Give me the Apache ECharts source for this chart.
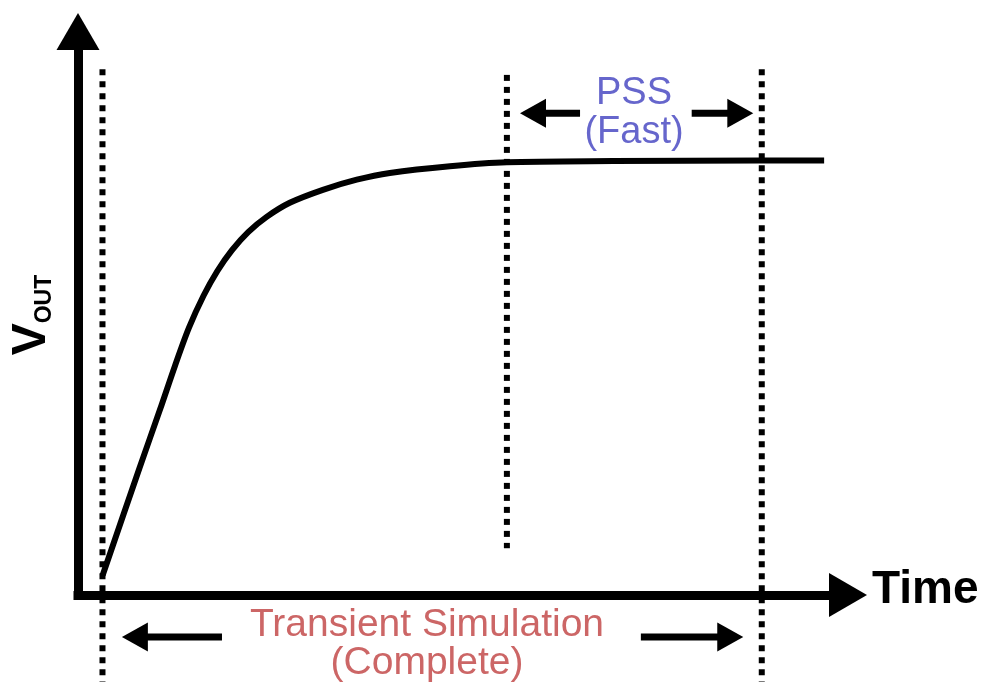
<!DOCTYPE html>
<html>
<head>
<meta charset="utf-8">
<script src="https://cdn.jsdelivr.net/npm/echarts@6/dist/echarts.min.js"></script>
<style>html,body{margin:0;padding:0;background:#fff;}#c{width:986px;height:682px;}</style>
</head>
<body>
<div id="c"></div>
<script>
// Curve: time (arbitrary units 0..100) and V_OUT (arbitrary units 0..100)
const timeVals = [3.2, 8.0, 10.65, 12.6, 14.4, 16.3, 18.1, 20.0, 22.1, 24.5, 27.5, 31.8, 36.2, 40.5, 48.3, 55.7, 69.5, 88.6, 96.9];
const voutVals = [3.5, 22.6, 32.9, 40.7, 47.4, 53.1, 57.5, 61.2, 64.4, 67.1, 69.6, 71.9, 73.7, 74.9, 76.1, 76.8, 77.0, 77.1, 77.1];

// Dotted markers: time position, top value, bottom value
const markerTimes = [3.18, 55.7, 88.8];
const markerTops = [93.3, 92.3, 93.3];
const markerBottoms = [-15.4, 8.3, -15.4];

// Span arrows: start time, level, tip time
const arrowStarts = [65.2, 79.7, 18.7, 73.1];
const arrowLevels = [85.5, 85.5, -7.45, -7.45];
const arrowTips = [57.4, 87.7, 5.7, 86.4];

const xLabel = 'Time';
const pssLabel = 'PSS\n(Fast)';
const tranLabel = 'Transient Simulation\n(Complete)';

const curveData = timeVals.map((t, i) => [t, voutVals[i]]);
const arrowData = arrowStarts.map((s, i) => [s, arrowLevels[i], arrowTips[i]]);

const markerSeries = markerTimes.map((t, i) => ({
  type: 'line',
  data: [[t, markerTops[i]], [t, markerBottoms[i]]],
  showSymbol: false,
  symbol: 'none',
  clip: false,
  silent: true,
  z: 1,
  lineStyle: { color: '#000', width: 6, type: [6, 6], cap: 'butt' }
}));

const chart = echarts.init(document.getElementById('c'));
chart.setOption({
  animation: false,
  backgroundColor: '#fff',
  grid: { left: 78, right: 138, top: 31.5, bottom: 87 },
  xAxis: {
    type: 'value', min: 0, max: 100,
    axisLine: { show: true, onZero: true, symbol: ['none', 'triangle'], symbolSize: [44, 38],
      lineStyle: { color: '#000', width: 9, cap: 'square' } },
    axisTick: { show: false }, axisLabel: { show: false }, splitLine: { show: false }
  },
  yAxis: {
    type: 'value', min: 0, max: 100,
    axisLine: { show: true, onZero: true, symbol: ['none', 'triangle'], symbolSize: [43, 37],
      lineStyle: { color: '#000', width: 9, cap: 'square' } },
    axisTick: { show: false }, axisLabel: { show: false }, splitLine: { show: false }
  },
  series: markerSeries.concat([
    {
      type: 'line',
      data: curveData,
      smooth: 0.3,
      showSymbol: false,
      symbol: 'none',
      z: 3,
      lineStyle: { color: '#000', width: 6, cap: 'butt', join: 'round' }
    },
    {
      type: 'custom',
      data: arrowData,
      z: 4,
      renderItem: function (params, api) {
        const p0 = api.coord([api.value(0), api.value(1)]);
        const p1 = api.coord([api.value(2), api.value(1)]);
        const dir = p1[0] > p0[0] ? 1 : -1;
        const L = 26, H = 14.5;
        const bx = p1[0] - dir * L;
        return {
          type: 'group',
          children: [
            { type: 'line', shape: { x1: p0[0], y1: p0[1], x2: bx + dir * 2, y2: p1[1] },
              style: { stroke: '#000', lineWidth: 7 } },
            { type: 'polygon', shape: { points: [[p1[0], p1[1]], [bx, p1[1] - H], [bx, p1[1] + H]] },
              style: { fill: '#000' } }
          ]
        };
      }
    }
  ]),
  graphic: [
    { type: 'text', x: 872, y: 590, style: { text: xLabel, fill: '#000',
      font: 'bold 46px "Liberation Sans", Arial, sans-serif', align: 'left', verticalAlign: 'middle' } },
    { type: 'text', x: 634, y: 113, style: { text: pssLabel, fill: '#6666cc',
      font: '38px "Liberation Sans", Arial, sans-serif', lineHeight: 39, align: 'center', verticalAlign: 'middle' } },
    { type: 'text', x: 427, y: 644, style: { text: tranLabel, fill: '#cc6666',
      font: '39px "Liberation Sans", Arial, sans-serif', lineHeight: 38, align: 'center', verticalAlign: 'middle' } },
    { type: 'text', x: 32, y: 315, rotation: Math.PI / 2, style: {
      text: '{v|V}{s|OUT}', align: 'center', verticalAlign: 'middle',
      rich: {
        v: { fontSize: 48, fontWeight: 'bold', fontFamily: '"Liberation Sans", Arial, sans-serif', fill: '#000', verticalAlign: 'bottom' },
        s: { fontSize: 23, fontWeight: 'bold', fontFamily: '"Liberation Sans", Arial, sans-serif', fill: '#000', verticalAlign: 'bottom' }
      } } }
  ]
});
</script>
</body>
</html>
